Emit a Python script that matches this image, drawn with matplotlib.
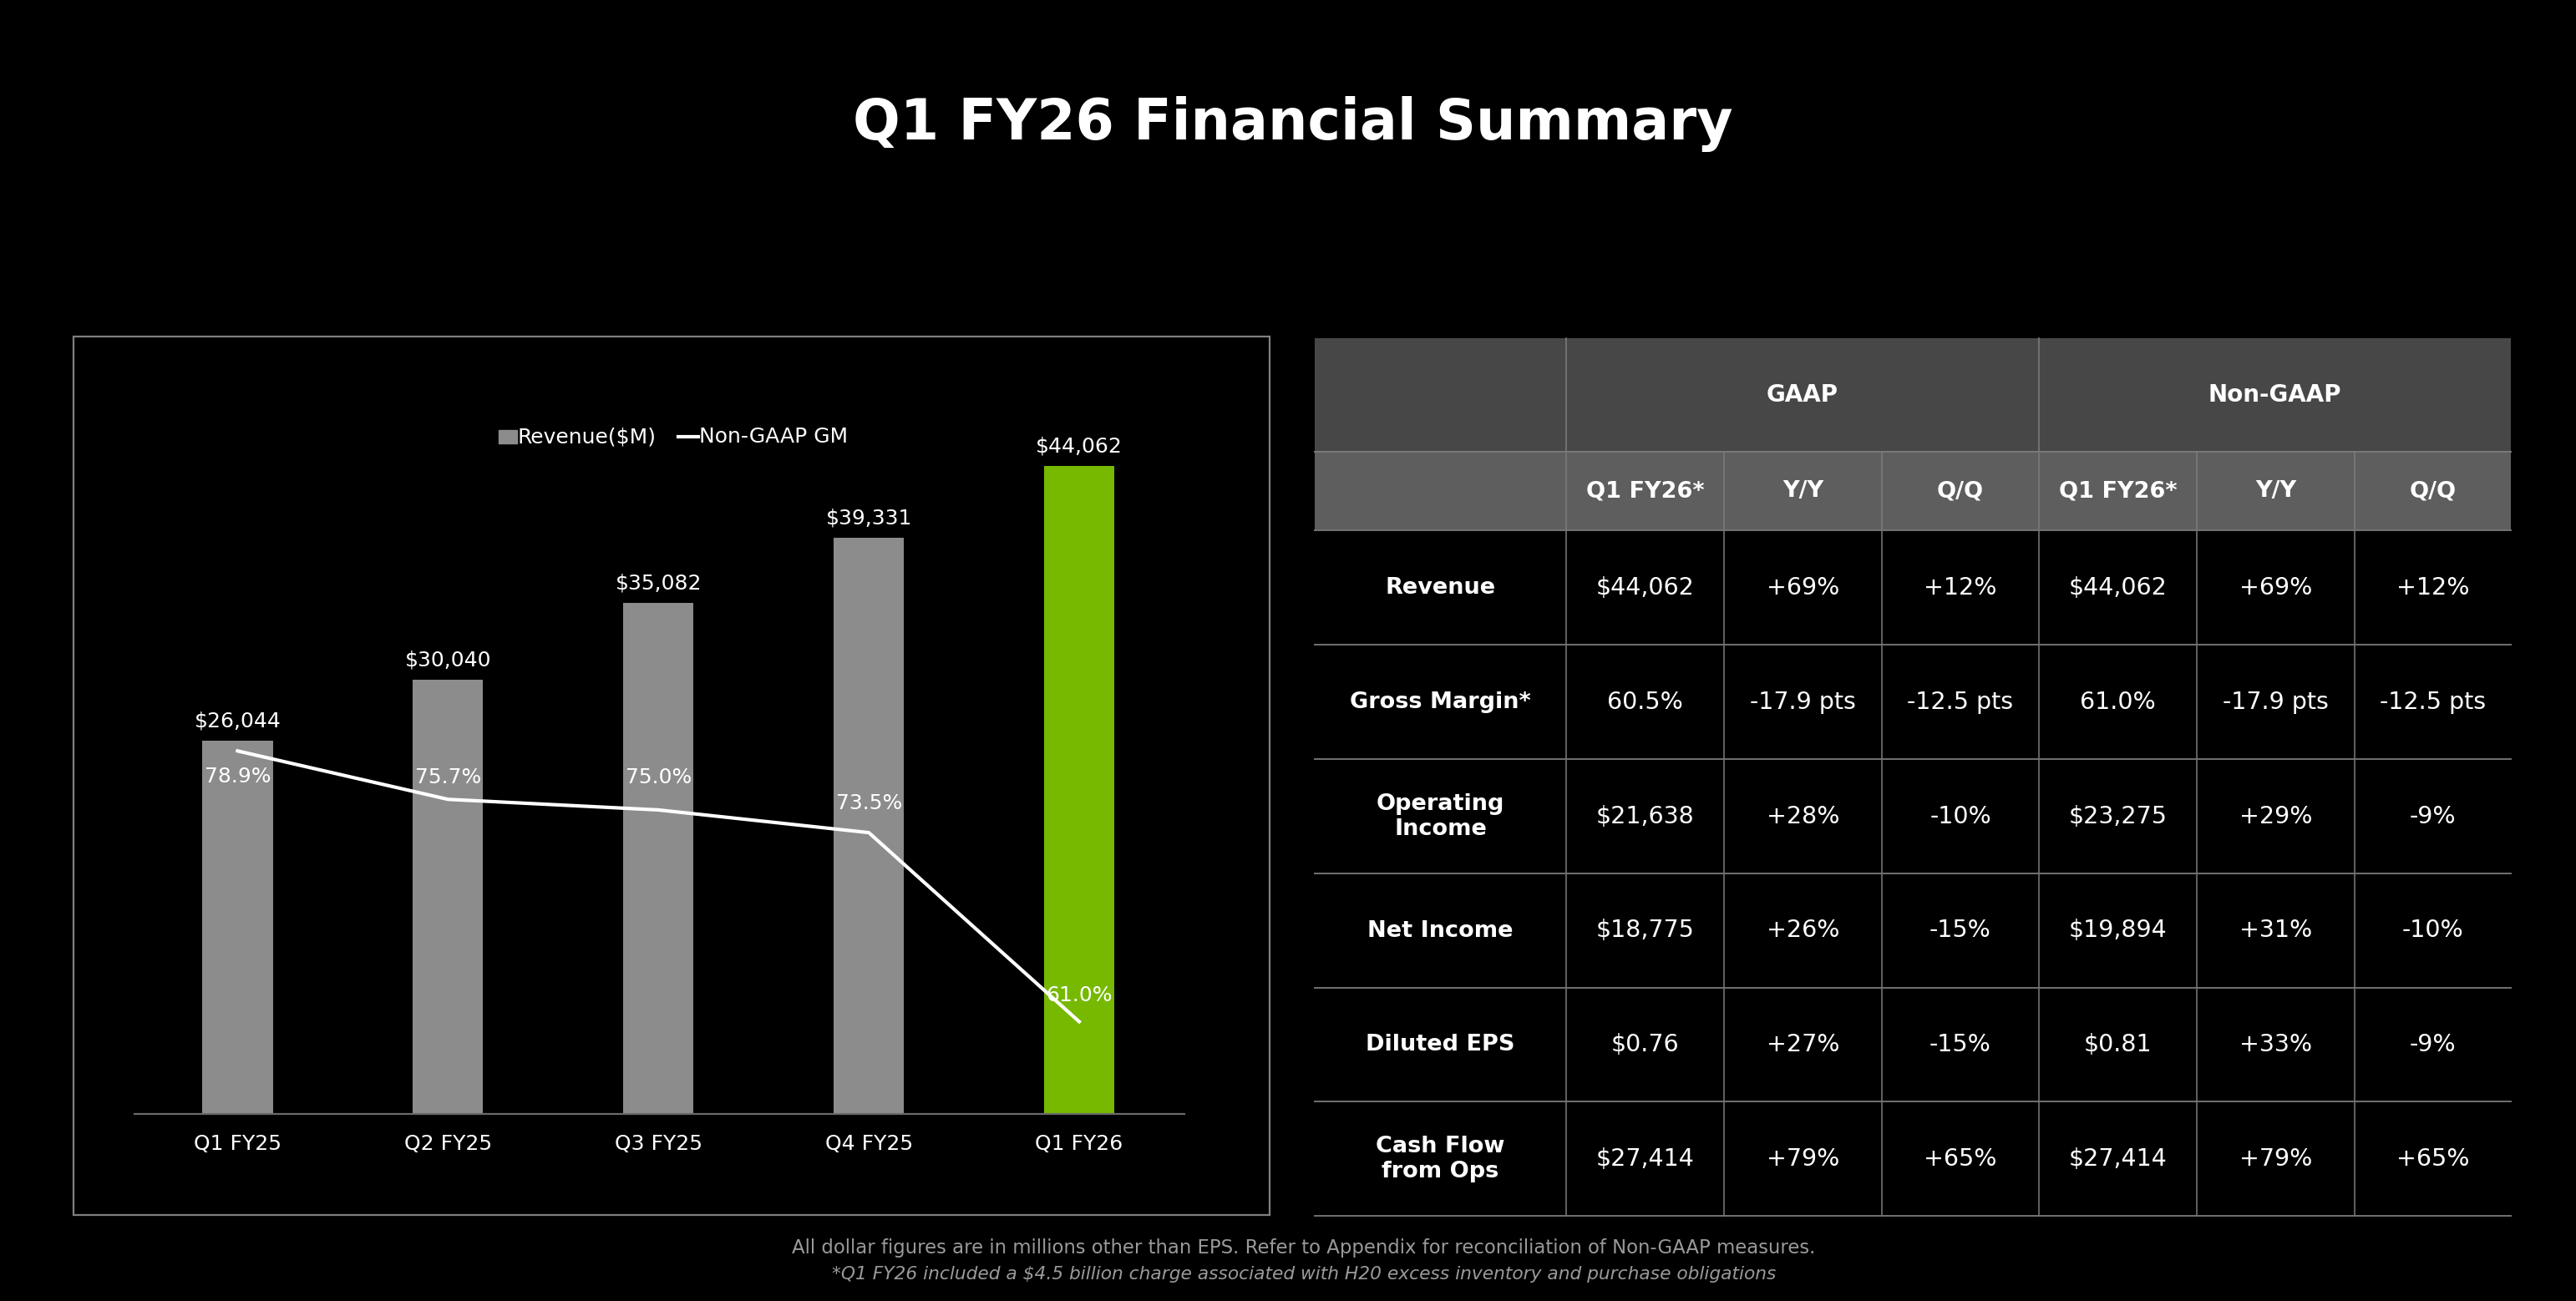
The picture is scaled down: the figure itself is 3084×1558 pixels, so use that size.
import matplotlib.pyplot as plt
from matplotlib.patches import Rectangle

# 数据
quarters = ['Q1 FY25', 'Q2 FY25', 'Q3 FY25', 'Q4 FY25', 'Q1 FY26']
revenue = [26044, 30040, 35082, 39331, 44062]
gross_margin = [78.9, 75.7, 75.0, 73.5, 61.0]

group_headers = ['GAAP', 'Non-GAAP']
col_headers = ['Q1 FY26*', 'Y/Y', 'Q/Q', 'Q1 FY26*', 'Y/Y', 'Q/Q']
row_labels = ['Revenue', 'Gross Margin*', 'Operating\nIncome', 'Net Income',
              'Diluted EPS', 'Cash Flow\nfrom Ops']
gaap = [['$44,062', '+69%', '+12%'],
        ['60.5%', '-17.9 pts', '-12.5 pts'],
        ['$21,638', '+28%', '-10%'],
        ['$18,775', '+26%', '-15%'],
        ['$0.76', '+27%', '-15%'],
        ['$27,414', '+79%', '+65%']]
non_gaap = [['$44,062', '+69%', '+12%'],
            ['61.0%', '-17.9 pts', '-12.5 pts'],
            ['$23,275', '+29%', '-9%'],
            ['$19,894', '+31%', '-10%'],
            ['$0.81', '+33%', '-9%'],
            ['$27,414', '+79%', '+65%']]

footnote1 = 'All dollar figures are in millions other than EPS. Refer to Appendix for reconciliation of Non-GAAP measures.'
footnote2 = '*Q1 FY26 included a $4.5 billion charge associated with H20 excess inventory and purchase obligations'

W, H = 3084, 1558
BAR_GRAY = '#8c8c8c'
GREEN = '#76b900'

plt.rcParams['font.family'] = ['DejaVu Sans']
fig = plt.figure(figsize=(W / 100, H / 100), dpi=100, facecolor='black')


def fx(px):
    return px / W


def fy(py):
    return 1 - py / H


# 整张图的覆盖坐标（像素），用于标题、边框、表格
bg = fig.add_axes([0, 0, 1, 1], zorder=0)
bg.set_xlim(0, W)
bg.set_ylim(H, 0)
bg.axis('off')
bg.set_facecolor('black')

bg.text(1548, 148, 'Q1 FY26 Financial Summary', color='white', fontsize=48,
        fontweight='bold', ha='center', va='center')

# 图表外框
bg.add_patch(Rectangle((88, 403), 1432, 1052, fill=False, edgecolor='#808080', lw=1.6))

# 柱状图
ax = fig.add_axes([fx(161), fy(1334), fx(1418 - 161), fy(470) - fy(1334)], zorder=2)
ax.set_facecolor('none')
x = list(range(len(quarters)))
colors = [BAR_GRAY] * (len(quarters) - 1) + [GREEN]
bars = ax.bar(x, revenue, width=0.334, color=colors, zorder=1)
ax.set_xlim(-0.49, 4.5)
ax.set_ylim(1500, 48900)
for b, v in zip(bars, revenue):
    ax.annotate(f'${v:,}', (b.get_x() + b.get_width() / 2, v), xytext=(0, 17),
                textcoords='offset points', ha='center', va='center',
                color='white', fontsize=18)
ax.set_xticks(x)
ax.set_xticklabels(quarters, color='white', fontsize=18)
ax.tick_params(axis='x', length=0, pad=17)
ax.set_yticks([])
for s in ['top', 'left', 'right']:
    ax.spines[s].set_visible(False)
ax.spines['bottom'].set_color('#6a6a6a')
ax.spines['bottom'].set_linewidth(1.6)

# 毛利率折线
ax2 = ax.twinx()
ax2.set_ylim(54.9, 102.6)
ax2.plot(x, gross_margin, color='white', lw=3, zorder=3)
ax2.axis('off')
label_offsets = [-22, 19, 28, 25, 23]
for xi, v, off in zip(x, gross_margin, label_offsets):
    ax2.annotate(f'{v:.1f}%', (xi, v), xytext=(0, off), textcoords='offset points',
                 ha='center', va='center', color='white', fontsize=18)

# 图例
bg.add_patch(Rectangle((597, 515), 22, 16, color=BAR_GRAY))
bg.text(620, 523, 'Revenue($M)', color='white', fontsize=18, va='center', ha='left')
bg.plot([812, 836], [523, 523], color='white', lw=3)
bg.text(837, 523, 'Non-GAAP GM', color='white', fontsize=18, va='center', ha='left')

# 表格
col_x = [1574, 1875, 2064, 2253, 2441, 2630, 2819, 3006]
row_y = [405, 541, 635, 772, 909, 1046, 1183, 1319, 1456]
line_c = '#737373'
hdr_line = '#7a7a7a'

bg.add_patch(Rectangle((col_x[0], row_y[0]), col_x[-1] - col_x[0], row_y[1] - row_y[0],
                       color='#474747', lw=0))
bg.add_patch(Rectangle((col_x[0], row_y[1]), col_x[-1] - col_x[0], row_y[2] - row_y[1],
                       color='#5e5e5e', lw=0))

# 表头
for i, g in enumerate(group_headers):
    x0, x1 = col_x[1 + 3 * i], col_x[4 + 3 * i]
    bg.text((x0 + x1) / 2, (row_y[0] + row_y[1]) / 2, g, color='white', fontsize=20,
            fontweight='bold', ha='center', va='center')
for j, h in enumerate(col_headers):
    bg.text((col_x[j + 1] + col_x[j + 2]) / 2, (row_y[1] + row_y[2]) / 2, h, color='white',
            fontsize=19.5, fontweight='bold', ha='center', va='center')

# 数据行
for r, lab in enumerate(row_labels):
    yc = (row_y[r + 2] + row_y[r + 3]) / 2
    bg.text((col_x[0] + col_x[1]) / 2, yc, lab, color='white', fontsize=19.5,
            fontweight='bold', ha='center', va='center', linespacing=1.2)
    vals = gaap[r] + non_gaap[r]
    for j, v in enumerate(vals):
        bg.text((col_x[j + 1] + col_x[j + 2]) / 2, yc, v, color='white', fontsize=20.5,
                ha='center', va='center')

# 网格线
for xv in [col_x[1], col_x[4]]:
    bg.plot([xv, xv], [row_y[0], row_y[1]], color=hdr_line, lw=1.2)
for xv in col_x[1:-1]:
    bg.plot([xv, xv], [row_y[1], row_y[2]], color=hdr_line, lw=1.2)
    bg.plot([xv, xv], [row_y[2], row_y[-1]], color=line_c, lw=1.2)
bg.plot([col_x[0], col_x[-1]], [row_y[1], row_y[1]], color=hdr_line, lw=1.4)
for yv in row_y[2:]:
    bg.plot([col_x[0], col_x[-1]], [yv, yv], color=line_c, lw=1.4)

# 脚注
bg.text(1561, 1495, footnote1, color='#9a9a9a', fontsize=16.4, ha='center', va='center')
bg.text(1561, 1526, footnote2, color='#9a9a9a', fontsize=15.7, ha='center', va='center',
        style='italic')

fig.savefig('out.png', dpi=100, facecolor='black')
